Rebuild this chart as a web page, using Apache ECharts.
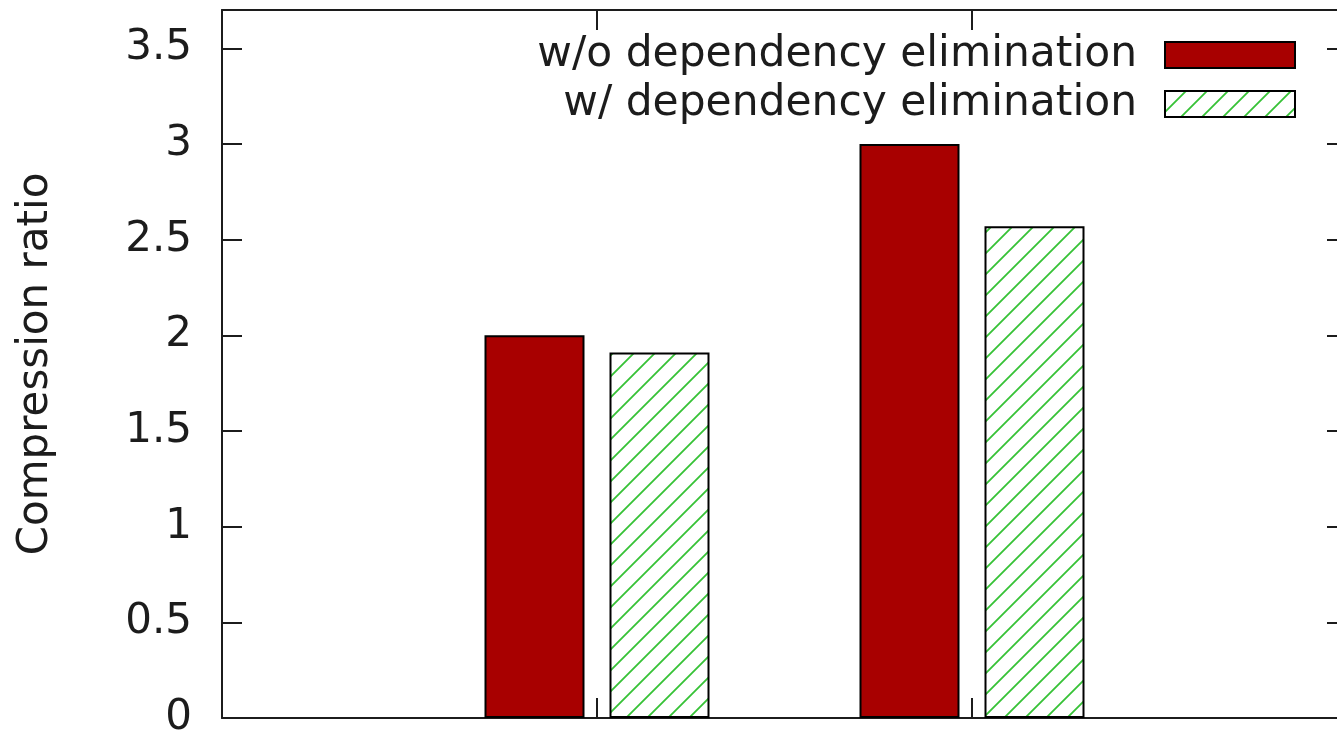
<!DOCTYPE html>
<html>
<head>
<meta charset="utf-8">
<script src="https://cdn.jsdelivr.net/npm/echarts@6/dist/echarts.min.js"></script>
<style>
  html, body { margin: 0; padding: 0; background: #ffffff; }
  #chart { width: 1337px; height: 735px; }
</style>
</head>
<body>
<div id="chart"></div>
<script>
// Group positions on the x scale (range -1 .. 2), one cluster per position
const groupPositions = [0, 1];
const seriesNames = ['w/o dependency elimination', 'w/ dependency elimination'];
const withoutElimination = [2.0, 3.0];
const withElimination = [1.91, 2.57];
const yTickValues = [0, 0.5, 1, 1.5, 2, 2.5, 3, 3.5];
const yAxisTitle = 'Compression ratio';

const FONT = 'DejaVu Sans';
const INK = '#1c1c1c';
const RED = '#a80000';

// Diagonal green hatch tile used as a repeating fill
function hatchTile() {
  const s = 21;
  const c = document.createElement('canvas');
  c.width = s; c.height = s;
  const g = c.getContext('2d');
  g.fillStyle = '#ffffff';
  g.fillRect(0, 0, s, s);
  g.strokeStyle = '#36c236';
  g.lineWidth = 1.8;
  g.beginPath();
  g.moveTo(-2, s + 2); g.lineTo(s + 2, -2);
  g.moveTo(-2, 2); g.lineTo(2, -2);
  g.moveTo(s - 2, s + 2); g.lineTo(s + 2, s - 2);
  g.stroke();
  return c;
}
const hatch = { image: hatchTile(), repeat: 'repeat' };

const pairs = vals => groupPositions.map((x, i) => [x, vals[i]]);

const chart = echarts.init(document.getElementById('chart'), null, { renderer: 'canvas' });

const frameLine = () => ({ show: true, onZero: false, lineStyle: { color: INK, width: 2 } });
const innerTicks = values => ({
  show: true, inside: true, length: 20,
  lineStyle: { color: INK, width: 2 },
  customValues: values
});

const legendBase = {
  orient: 'horizontal',
  align: 'right',
  right: 41,
  padding: 0,
  icon: 'rect',
  itemWidth: 130,
  itemHeight: 26,
  selectedMode: false,
  itemStyle: { borderColor: '#000', borderWidth: 2 },
  textStyle: { fontFamily: FONT, fontSize: 42.4, color: INK, lineHeight: 48, padding: [0, 23, 0, 0] }
};

chart.setOption({
  animation: false,
  backgroundColor: '#ffffff',
  grid: {
    left: 222, top: 10, width: 1125, height: 708,
    containLabel: false, outerBoundsMode: 'none'
  },
  legend: [
    Object.assign({}, legendBase, { data: [seriesNames[0]], top: 31 }),
    Object.assign({}, legendBase, { data: [seriesNames[1]], top: 80 })
  ],
  xAxis: [
    {
      type: 'value', position: 'bottom', min: -1, max: 2, interval: 1,
      axisLine: frameLine(),
      axisTick: innerTicks(groupPositions),
      axisLabel: { show: false },
      splitLine: { show: false }
    },
    {
      type: 'value', position: 'top', min: -1, max: 2, interval: 1,
      axisLine: frameLine(),
      axisTick: innerTicks(groupPositions),
      axisLabel: { show: false },
      splitLine: { show: false }
    }
  ],
  yAxis: [
    {
      type: 'value', position: 'left', min: 0, max: 3.7, interval: 0.5,
      axisLine: frameLine(),
      axisTick: innerTicks(yTickValues),
      axisLabel: { show: true, margin: 30, fontFamily: FONT, fontSize: 42, color: INK, customValues: yTickValues },
      splitLine: { show: false },
      name: yAxisTitle,
      nameLocation: 'middle',
      nameRotate: 90,
      nameGap: 165,
      nameTextStyle: { fontFamily: FONT, fontSize: 42, color: INK }
    },
    {
      type: 'value', position: 'right', min: 0, max: 3.7, interval: 0.5,
      axisLine: frameLine(),
      axisTick: innerTicks(yTickValues),
      axisLabel: { show: false },
      splitLine: { show: false }
    }
  ],
  series: [
    {
      name: seriesNames[0],
      type: 'bar',
      xAxisIndex: 0, yAxisIndex: 0,
      barWidth: 100,
      barGap: '25%',
      itemStyle: { color: RED, borderColor: '#000', borderWidth: 2 },
      emphasis: { disabled: true },
      data: pairs(withoutElimination)
    },
    {
      name: seriesNames[1],
      type: 'bar',
      xAxisIndex: 0, yAxisIndex: 0,
      barWidth: 100,
      barGap: '25%',
      itemStyle: { color: hatch, borderColor: '#000', borderWidth: 2 },
      emphasis: { disabled: true },
      data: pairs(withElimination)
    }
  ]
});
</script>
</body>
</html>
